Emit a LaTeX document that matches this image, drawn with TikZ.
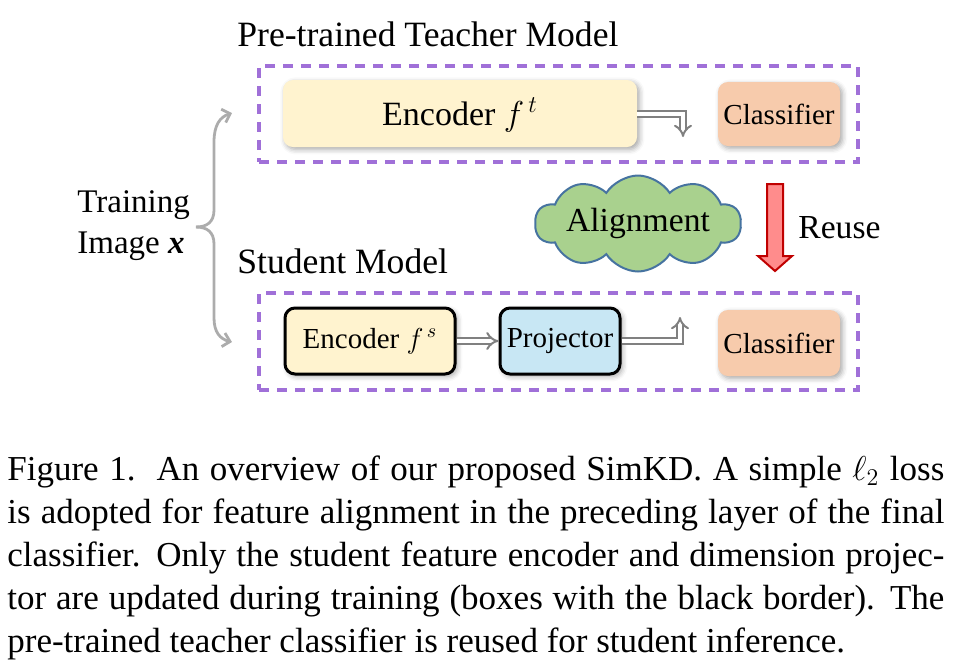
\documentclass[tikz,border=0pt]{standalone}
\usepackage{fontspec}
\setmainfont{Liberation Serif}
\usepackage{amsmath}
\usetikzlibrary{calc,arrows.meta,shapes.symbols,shadows.blur}

\definecolor{encyellow}{RGB}{255,243,207}
\definecolor{clspeach}{RGB}{247,203,172}
\definecolor{projblue}{RGB}{200,231,244}
\definecolor{cloudgreen}{RGB}{169,209,142}
\definecolor{cloudblue}{RGB}{70,115,160}
\definecolor{grouppurple}{RGB}{160,112,216}
\definecolor{reusered}{RGB}{255,140,140}
\definecolor{reusedark}{RGB}{192,0,0}

\newcommand{\titlefont}{\fontsize{17.8}{21}\selectfont}
\newcommand{\capfont}{\fontsize{17.5}{21}\selectfont}
\newcommand{\boxfont}{\fontsize{14.5}{17}\selectfont}

\tikzset{
  block/.style={rounded corners=5pt, inner sep=0pt,
    blur shadow={shadow xshift=1.2pt, shadow yshift=-1.2pt, shadow blur radius=2.5pt, shadow opacity=35}},
  trained/.style={block, draw=black, line width=1.5pt},
  groupbox/.style={draw=grouppurple, line width=1.7pt, dash pattern=on 5pt off 4pt, inner sep=0pt},
  hollow/.style={draw=gray, double=white, line width=1pt, double distance=2pt, -{Implies}},
  brace/.style={draw=gray!65, line width=1.4pt, -{Straight Barb[length=3.5pt,width=7pt]}},
  capline/.style={anchor=base west, inner sep=0pt, font=\capfont},
}

\begin{document}
\begin{tikzpicture}[x=0.5pt,y=-0.5pt]
  \useasboundingbox (0,0) rectangle (957,670);
  % teacher
  \node[anchor=base west, inner sep=0pt, font=\titlefont] (ttitle) at (237,46) {Pre-trained Teacher Model};
  \node[groupbox, minimum width=299.5pt, minimum height=48pt] (tgroup) at (558.5,114) {};
  \node[block, fill=encyellow, minimum width=177pt, minimum height=33.5pt, text height=15.5pt, text depth=4pt,
        font=\fontsize{17}{20}\selectfont] (tenc) at (460,113.5) {Encoder $f^{\,t}$};
  \node[block, fill=clspeach, minimum width=61pt, minimum height=32pt, font=\boxfont] (tcls) at (779,114) {Classifier};
  \coordinate (tdrop) at (683,137);
  \draw[hollow] (tenc.east) -| (tdrop);
  % student
  \node[anchor=base west, inner sep=0pt, font=\titlefont] (stitle) at (237,273) {Student Model};
  \node[groupbox, minimum width=299.5pt, minimum height=48.5pt] (sgroup) at (558.5,341.5) {};
  \node[trained, fill=encyellow, minimum width=85pt, minimum height=33pt, font=\boxfont] (senc) at (370,341) {Encoder $f^{\,s}$};
  \node[trained, fill=projblue, minimum width=60pt, minimum height=33pt, font=\boxfont] (proj) at (560,341) {Projector};
  \node[block, fill=clspeach, minimum width=61pt, minimum height=33pt, font=\boxfont] (scls) at (779,343) {Classifier};
  \coordinate (srise) at (680,317);
  \draw[hollow] (senc) -- (proj);
  \draw[hollow] (proj.east) -| (srise);
  % alignment and reuse
  \node[cloud, cloud puffs=10, cloud puff arc=115, cloud ignores aspect, draw=cloudblue, fill=cloudgreen, line width=1pt,
        minimum width=103pt, minimum height=48pt, inner sep=0pt, font=\fontsize{16.8}{20}\selectfont] (align) at (638,223.5) {Alignment};
  \filldraw[fill=reusered, draw=reusedark, line width=1pt] (767,184) -- (783,184) -- (783,256) -- (792,256)
      -- (775,271) -- (758,256) -- (767,256) -- cycle;
  \node[anchor=base west, inner sep=0pt, font=\fontsize{16.8}{20}\selectfont] (reuse) at (798,238) {Reuse};
  % input brace
  \node[anchor=west, align=left, inner sep=0pt, font=\fontsize{16.5}{20.5}\selectfont] (train) at (77,226) {Training\\Image \textbf{\textit{x}}};
  \coordinate (brmid) at (196,227);
  \coordinate (brtop) at (232,113);
  \coordinate (brbot) at (232,342);
  \draw[brace] (brmid) .. controls (207,227) and (214,222) .. (214,210) -- (214,142)
      .. controls (214,125) and (220,117) .. (brtop);
  \draw[brace] (brmid) .. controls (207,227) and (214,232) .. (214,244) -- (214,318)
      .. controls (214,332) and (220,339) .. (brbot);
  % caption
  \node[capline] (cap1) at (7,480) {\makebox[468.5pt][s]{Figure 1.\ \ An overview of our proposed SimKD. A simple $\ell_2$ loss}};
  \node[capline] (cap2) at (7,523.5) {\makebox[468.5pt][s]{is adopted for feature alignment in the preceding layer of the final}};
  \node[capline] (cap3) at (7,566.5) {\makebox[468.5pt][s]{classifier. Only the student feature encoder and dimension projec-}};
  \node[capline] (cap4) at (7,609.5) {\makebox[468.5pt][s]{tor are updated during training (boxes with the black border). The}};
  \node[capline] (cap5) at (7,652.5) {pre-trained teacher classifier is reused for student inference.};
\end{tikzpicture}
\end{document}
